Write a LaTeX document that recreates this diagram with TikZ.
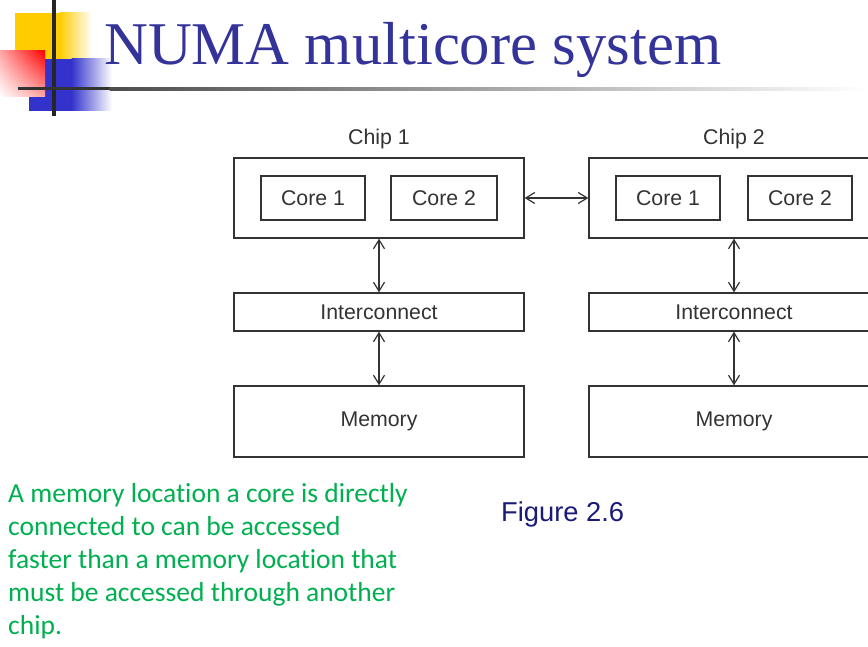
\documentclass[tikz,border=0pt]{standalone}
\usepackage{fontspec}
\setmainfont{Liberation Serif}
\newfontfamily\arialfont{Liberation Sans}
\newfontfamily\calibrifont[Ligatures=NoCommon]{Carlito}
\usepackage{tikz}
\usetikzlibrary{arrows.meta, shadings}
\definecolor{titleblue}{RGB}{51,51,153}
\definecolor{logoyellow}{RGB}{255,204,0}
\definecolor{logoblue}{RGB}{51,51,204}
\definecolor{notegreen}{RGB}{0,176,80}
\definecolor{figblue}{RGB}{26,26,120}
\definecolor{boxgray}{RGB}{51,51,51}
\tikzset{
  numabox/.style={draw=boxgray, line width=1.3pt, fill=white, rectangle, inner sep=0pt,
    text=boxgray, font=\arialfont\fontsize{21.3}{25}\selectfont},
  link/.style={draw=boxgray, line width=1.2pt, {Straight Barb[length=9pt,width=11pt]}-{Straight Barb[length=9pt,width=11pt]}},
  chiplabel/.style={text=boxgray, font=\arialfont\fontsize{21.3}{25}\selectfont}
}

\begin{document}
\begin{tikzpicture}[x=1pt, y=-1pt]
        \useasboundingbox (0,0) rectangle (868,647);
        \clip (0,0) rectangle (868,647);
        \fill[white] (0,0) rectangle (868,647);
        % logo
        \fill[logoyellow] (15,13) rectangle (60,59);
        \shade[left color=logoyellow, right color=white] (59.5,13) rectangle (92,59);
        \fill[logoblue] (29,59) rectangle (72,111);
        \shade[left color=logoblue, right color=white] (71.5,59) rectangle (112,111);
        \shade[upper left=red!35, upper right=red, lower left=white, lower right=red!35] (0,51) rectangle (45,97);
        \fill[black!85] (52,0) rectangle (56,116);
        \fill[black!80] (18,87.5) rectangle (110,90.5);
        \shade[left color=black!70, right color=white] (109.5,87.5) rectangle (868,90.5);
        \node[anchor=base west, inner sep=0pt, text=titleblue, font=\fontsize{60.7}{72}\selectfont] (title) at (104,65) {NUMA multicore system};
        % chip 1
        \node[chiplabel] (lab1) at (379,139) {Chip 1};
        \node[numabox, minimum width=290pt, minimum height=80pt] (chip1) at (379,198) {};
        \node[numabox, minimum width=104pt, minimum height=44pt] (c11) at (313,198) {Core 1};
        \node[numabox, minimum width=106pt, minimum height=44pt] (c12) at (444,198) {Core 2};
        \node[numabox, minimum width=290pt, minimum height=38pt] (ic1) at (379,312) {Interconnect};
        \node[numabox, minimum width=290pt, minimum height=71pt] (mem1) at (379,421.5) {Memory};
        % chip 2
        \node[chiplabel] (lab2) at (734,139) {Chip 2};
        \node[numabox, minimum width=290pt, minimum height=80pt] (chip2) at (734,198) {};
        \node[numabox, minimum width=104pt, minimum height=44pt] (c21) at (668,198) {Core 1};
        \node[numabox, minimum width=104pt, minimum height=44pt] (c22) at (800,198) {Core 2};
        \node[numabox, minimum width=290pt, minimum height=38pt] (ic2) at (734,312) {Interconnect};
        \node[numabox, minimum width=290pt, minimum height=71pt] (mem2) at (734,421.5) {Memory};
        % links
        \draw[link] (chip1) -- (ic1);
        \draw[link] (ic1) -- (mem1);
        \draw[link] (chip2) -- (ic2);
        \draw[link] (ic2) -- (mem2);
        \draw[link] (chip1) -- (chip2);
        % texts
        \node[anchor=north west, inner sep=0pt, align=left, text=notegreen,
          font=\calibrifont\fontsize{27.5}{33}\selectfont] (note) at (8,483)
          {A memory location a core is directly\\connected to can be accessed\\faster than a memory location that\\must be accessed through another\\chip.};
        \node[anchor=base west, inner sep=0pt, text=figblue, font=\arialfont\fontsize{27.3}{30}\selectfont] (fig) at (501,521) {Figure 2.6};
\end{tikzpicture}
\end{document}
